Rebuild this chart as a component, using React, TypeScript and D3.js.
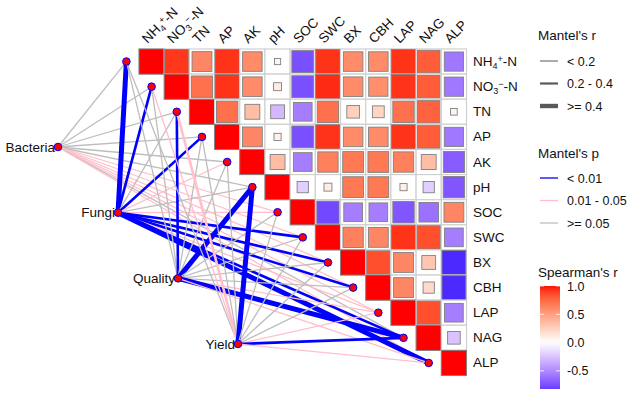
import * as d3 from "d3";

const VARS = ["NH4", "NO3", "TN", "AP", "AK", "pH", "SOC", "SWC", "BX", "CBH", "LAP", "NAG", "ALP"];
const ENVS = ["Bacteria", "Fungi", "Quality", "Yield"];

// Spearman's r, upper triangle: each row starts at its diagonal cell
const rNH4 = [1, 0.92, 0.62, 0.93, 0.6, 0.06, -0.75, 0.93, 0.6, 0.6, 0.93, 0.8, -0.58];
const rNO3 = [1, 0.72, 0.93, 0.6, 0.1, -0.75, 0.95, 0.6, 0.58, 0.93, 0.8, -0.58];
const rTN = [1, 0.72, 0.35, -0.3, -0.55, 0.72, 0.25, 0.22, 0.72, 0.78, 0.07];
const rAP = [1, 0.62, 0.08, -0.75, 0.93, 0.6, 0.6, 0.93, 0.8, -0.58];
const rAK = [1, 0.35, -0.55, 0.65, 0.68, 0.68, 0.65, 0.35, -0.7];
const rPH = [1, -0.2, 0.1, 0.68, 0.68, 0.08, -0.2, -0.72];
const rSOC = [1, -0.78, -0.55, -0.55, -0.72, -0.6, 0.62];
const rSWC = [1, 0.65, 0.62, 0.93, 0.85, -0.55];
const rBX = [1, 0.85, 0.62, 0.3, -0.9];
const rCBH = [1, 0.62, 0.2, -0.9];
const rLAP = [1, 0.85, -0.55];
const rNAG = [1, -0.25];
const rALP = [1];
const SPEARMAN = [rNH4, rNO3, rTN, rAP, rAK, rPH, rSOC, rSWC, rBX, rCBH, rLAP, rNAG, rALP];

// Mantel test, one value per variable in VARS order
const bacteriaR = [0.1, 0.1, 0.1, 0.1, 0.1, 0.1, 0.1, 0.1, 0.1, 0.1, 0.1, 0.1, 0.1];
const bacteriaP = [0.2, 0.2, 0.2, 0.3, 0.3, 0.2, 0.03, 0.03, 0.02, 0.02, 0.03, 0.2, 0.03];
const fungiR = [0.5, 0.3, 0.1, 0.3, 0.15, 0.1, 0.15, 0.3, 0.3, 0.35, 0.15, 0.3, 0.45];
const fungiP = [0.001, 0.001, 0.2, 0.005, 0.03, 0.3, 0.03, 0.001, 0.001, 0.001, 0.03, 0.005, 0.001];
const qualityR = [0.1, 0.1, 0.25, 0.1, 0.1, 0.5, 0.1, 0.1, 0.1, 0.1, 0.1, 0.5, 0.1];
const qualityP = [0.2, 0.2, 0.005, 0.3, 0.3, 0.001, 0.2, 0.2, 0.3, 0.3, 0.03, 0.001, 0.03];
const yieldR = [0.1, 0.1, 0.25, 0.1, 0.1, 0.5, 0.1, 0.1, 0.1, 0.1, 0.1, 0.3, 0.1];
const yieldP = [0.2, 0.03, 0.02, 0.3, 0.2, 0.001, 0.3, 0.2, 0.2, 0.2, 0.03, 0.001, 0.03];
const MANTEL_R = [bacteriaR, fungiR, qualityR, yieldR];
const MANTEL_P = [bacteriaP, fungiP, qualityP, yieldP];

const R_LABELS = ["< 0.2", "0.2 - 0.4", ">= 0.4"];
const P_LABELS = ["< 0.01", "0.01 - 0.05", ">= 0.05"];
const FILL_TICKS = [1.0, 0.5, 0.0, -0.5];

const FONT = "Liberation Sans, Arial, Helvetica, sans-serif";
const P_COLORS = ["#0000FF", "#FFC0CB", "#BEBEBE"];
const R_WIDTHS = [1.3, 2.6, 5];

const fill = (r: number) =>
  r >= 0 ? d3.interpolateLab("#FFFFFF", "#FF0000")(r) : d3.interpolateLab("#FFFFFF", "#0000FF")(-r);
const rCat = (r: number) => (r < 0.2 ? 0 : r < 0.4 ? 1 : 2);
const pCat = (p: number) => (p < 0.01 ? 0 : p < 0.05 ? 1 : 2);

function VarLabel({ name }: { name: string }) {
  if (name === "NH4")
    return (
      <>
        NH<tspan fontSize={9} dy={3}>4</tspan>
        <tspan fontSize={9} dy={-7}>+</tspan>
        <tspan dy={4}>-N</tspan>
      </>
    );
  if (name === "NO3")
    return (
      <>
        NO<tspan fontSize={9} dy={3}>3</tspan>
        <tspan fontSize={9} dy={-7}>−</tspan>
        <tspan dy={4}>-N</tspan>
      </>
    );
  return <>{name}</>;
}

export default function App() {
  const x = d3.scaleBand().domain(VARS).range([139, 466.5]);
  const y = d3.scaleBand().domain(VARS).range([49, 375.5]);
  const bw = x.bandwidth();
  const bh = y.bandwidth();
  const side = d3.scaleSqrt().domain([0, 1]).range([0, bw]);

  const envX = d3.scaleLinear().domain([0, ENVS.length - 1]).range([58, 238]);
  const envY = d3.scaleLinear().domain([0, ENVS.length - 1]).range([147, 344]);
  const nodeX = (i: number) => (x(VARS[i]) as number) - bw / 2;
  const nodeY = (i: number) => (y(VARS[i]) as number) + bh / 2;

  const barY = d3.scaleLinear().domain([-0.82, 1]).range([389, 286]);
  const gradStops = d3.range(-0.82, 1.0001, 0.06).map((v) => ({ v, c: fill(v) }));

  return (
    <svg width={630} height={401} style={{ position: "absolute", left: 0, top: 0, background: "#fff" }} fontFamily={FONT}>
      <defs>
        <linearGradient id="fillGrad" x1="0" y1="1" x2="0" y2="0">
          {gradStops.map((d, k) => (
            <stop key={k} offset={(d.v + 0.82) / 1.82} stopColor={d.c} />
          ))}
        </linearGradient>
      </defs>

      {/* matrix cells */}
      {SPEARMAN.map((row, i) =>
        row.map((r, k) => {
          const j = i + k;
          const cx = (x(VARS[j]) as number) + bw / 2;
          const cy = (y(VARS[i]) as number) + bh / 2;
          const s = side(Math.abs(r));
          return (
            <g key={`c${i}-${j}`}>
              <rect x={cx - bw / 2} y={cy - bh / 2} width={bw} height={bh} fill="#fff" stroke="#D0D0D0" strokeWidth={1.2} />
              <rect x={cx - s / 2} y={cy - s / 2} width={s} height={s} fill={fill(r)} stroke="#808080" strokeWidth={0.9} />
            </g>
          );
        })
      )}

      {/* mantel links */}
      {ENVS.map((env, e) =>
        VARS.map((v, i) => (
          <line
            key={`l${e}-${i}`}
            x1={envX(e)}
            y1={envY(e)}
            x2={nodeX(i)}
            y2={nodeY(i)}
            stroke={P_COLORS[pCat(MANTEL_P[e][i])]}
            strokeWidth={R_WIDTHS[rCat(MANTEL_R[e][i])]}
          />
        ))
      )}

      {/* nodes */}
      {VARS.map((v, i) => (
        <circle key={`n${v}`} cx={nodeX(i)} cy={nodeY(i)} r={3.8} fill="#FF0000" stroke="#0000FF" strokeWidth={1} />
      ))}
      {ENVS.map((env, e) => (
        <g key={`e${env}`}>
          <circle cx={envX(e)} cy={envY(e)} r={3.8} fill="#FF0000" stroke="#0000FF" strokeWidth={1} />
          <text x={envX(e) - 3} y={envY(e) + 4.5} textAnchor="end" fontSize={13.5} fill="#111">
            {env}
          </text>
        </g>
      ))}

      {/* axis labels */}
      {VARS.map((v) => (
        <text key={`ry${v}`} x={473} y={(y(v) as number) + bh / 2 + 4.5} fontSize={13.5} fill="#111">
          <VarLabel name={v} />
        </text>
      ))}
      {VARS.map((v) => (
        <g key={`tx${v}`} transform={`translate(${(x(v) as number) + bw / 2 - 4},44) rotate(-45)`}>
          <text x={0} y={0} fontSize={13.5} fill="#111">
            <VarLabel name={v} />
          </text>
        </g>
      ))}

      {/* legend: Mantel's r */}
      <text x={538} y={40} fontSize={13.5} fill="#111">Mantel's r</text>
      {R_LABELS.map((lab, k) => (
        <g key={`lr${k}`}>
          <line x1={540} x2={558} y1={61 + k * 22.5} y2={61 + k * 22.5} stroke="#595959" strokeWidth={[1, 2.2, 4.4][k]} />
          <text x={567} y={65.5 + k * 22.5} fontSize={12.5} fill="#111">{lab}</text>
        </g>
      ))}

      {/* legend: Mantel's p */}
      <text x={538} y={158} fontSize={13.5} fill="#111">Mantel's p</text>
      {P_LABELS.map((lab, k) => (
        <g key={`lp${k}`}>
          <line x1={540} x2={558} y1={178 + k * 22.5} y2={178 + k * 22.5} stroke={P_COLORS[k]} strokeWidth={1.3} />
          <text x={567} y={182.5 + k * 22.5} fontSize={12.5} fill="#111">{lab}</text>
        </g>
      ))}

      {/* legend: Spearman's r */}
      <text x={538} y={277} fontSize={13.5} fill="#111">Spearman's r</text>
      <rect x={540} y={barY(1)} width={20} height={barY(-0.82) - barY(1)} fill="url(#fillGrad)" />
      {FILL_TICKS.map((t) => (
        <g key={`ft${t}`}>
          <line x1={540} x2={544} y1={barY(t)} y2={barY(t)} stroke="#fff" strokeWidth={0.8} />
          <line x1={556} x2={560} y1={barY(t)} y2={barY(t)} stroke="#fff" strokeWidth={0.8} />
          <text x={567} y={barY(t) + 4.5} fontSize={12.5} fill="#111">{t.toFixed(1)}</text>
        </g>
      ))}
    </svg>
  );
}
